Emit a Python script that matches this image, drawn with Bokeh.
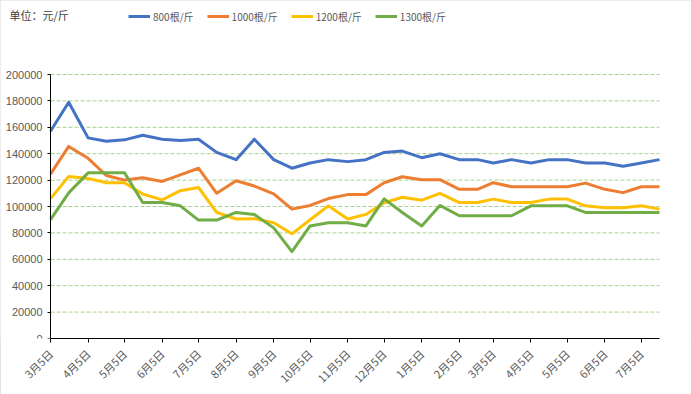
import pandas as pd
from bokeh.plotting import figure
from bokeh.models import (Range1d, FixedTicker, Legend, LegendItem, Label,
                          NumeralTickFormatter)
from bokeh.embed import file_html
from bokeh.resources import INLINE

# ---- data ----
dates = ["2021-03-05", "2021-03-20", "2021-04-05", "2021-04-20", "2021-05-05", "2021-05-20",
         "2021-06-05", "2021-06-20", "2021-07-05", "2021-07-20", "2021-08-05", "2021-08-20",
         "2021-09-05", "2021-09-20", "2021-10-05", "2021-10-20", "2021-11-05", "2021-11-20",
         "2021-12-05", "2021-12-20", "2022-01-05", "2022-01-20", "2022-02-05", "2022-02-20",
         "2022-03-05", "2022-03-20", "2022-04-05", "2022-04-20", "2022-05-05", "2022-05-20",
         "2022-06-05", "2022-06-20", "2022-07-05", "2022-07-20"]

s800 = [157000, 179000, 152000, 149500, 150500, 154000, 151000, 150000, 151000, 141000,
        135500, 151000, 135500, 129000, 133000, 135500, 134000, 135500, 141000, 142000,
        137000, 140000, 135500, 135500, 133000, 135500, 133000, 135500, 135500, 133000,
        133000, 130500, 133000, 135500]
s1000 = [124500, 145500, 136500, 123500, 120000, 121800, 119000, 124000, 129000, 110000,
         119500, 115500, 109500, 98000, 100800, 106000, 109000, 109000, 118000, 122500,
         120300, 120300, 113000, 113000, 118000, 115000, 115000, 115000, 115000, 117700,
         113000, 110500, 115000, 115000]
s1200 = [106000, 122800, 121300, 118000, 118000, 109500, 105000, 112000, 114400, 95500,
         90500, 90800, 87700, 79300, 90000, 100500, 90500, 94000, 102800, 107000,
         104800, 110000, 103000, 103000, 105600, 103000, 103000, 105600, 105600, 100500,
         99000, 99000, 100500, 98000]
s1300 = [90000, 110300, 125500, 125500, 125500, 103000, 103000, 100500, 89700, 89700,
         95500, 94000, 83800, 65800, 85300, 87700, 87700, 85300, 105800, 95500,
         85300, 100800, 93000, 93000, 93000, 93000, 100500, 100500, 100500, 95500,
         95500, 95500, 95500, 95500]

series_names = ["800根/斤", "1000根/斤", "1200根/斤", "1300根/斤"]
tick_dates = dates[::2]
tick_labels = ["3月5日", "4月5日", "5月5日", "6月5日", "7月5日", "8月5日", "9月5日", "10月5日",
               "11月5日", "12月5日", "1月5日", "2月5日", "3月5日", "4月5日", "5月5日", "6月5日", "7月5日"]
y_ticks = [0, 20000, 40000, 60000, 80000, 100000, 120000, 140000, 160000, 180000, 200000]
unit_text = "单位：元/斤"

# ---- derived x positions (days from first date) ----
t0 = pd.Timestamp(dates[0])
x = [int((pd.Timestamp(d) - t0).days) for d in dates]
xt = [int((pd.Timestamp(d) - t0).days) for d in tick_dates]

colors = ["#4472C4", "#ED7D31", "#FFC000", "#70AD47"]
CJK = "Noto Sans CJK SC"

# ---- layout geometry (pixels) ----
W, H = 691, 394
PL, PR = 50, 659          # plot area left/right
PT, PB = 74, 338          # plot area top (200000) / bottom (0)
frame_h = PB               # frame spans from top of canvas to x axis
x0, x1 = x[0], x[-1]
dpp = (x1 - x0) / (PR - PL)
ypp = (y_ticks[-1] - y_ticks[0]) / (PB - PT)

p = figure(width=W, height=H, output_backend="svg", toolbar_location=None,
           x_range=Range1d(x0 - PL * dpp, x1 + (W - PR) * dpp),
           y_range=Range1d(y_ticks[0], y_ticks[0] + frame_h * ypp),
           min_border_left=0, min_border_right=0, min_border_top=0,
           min_border_bottom=H - PB)
p.outline_line_color = None
p.background_fill_color = "white"
p.border_fill_color = "white"
p.xgrid.visible = False
p.ygrid.visible = False

# y axis drawn at the first date, so it takes no side space
p.yaxis.fixed_location = x0
p.yaxis.bounds = (y_ticks[0], y_ticks[-1])
p.yaxis.ticker = FixedTicker(ticks=y_ticks)
p.yaxis.formatter = NumeralTickFormatter(format="0")
p.yaxis.minor_tick_line_color = None
p.yaxis.major_tick_out = 3
p.yaxis.major_tick_in = 0
p.yaxis.major_label_standoff = 5
p.yaxis.axis_line_color = "black"
p.yaxis.major_tick_line_color = "black"
p.yaxis.major_label_text_font = "Liberation Sans"
p.yaxis.major_label_text_font_size = "11px"
p.yaxis.major_label_text_color = "#595959"

p.xaxis.bounds = (x0, x1)
p.xaxis.ticker = FixedTicker(ticks=xt)
p.xaxis.major_label_overrides = {v: lab for v, lab in zip(xt, tick_labels)}
p.xaxis.minor_tick_line_color = None
p.xaxis.major_tick_out = 4
p.xaxis.major_tick_in = 0
p.xaxis.major_label_standoff = 9
p.xaxis.axis_line_color = "black"
p.xaxis.major_tick_line_color = "black"
p.xaxis.major_label_orientation = 0.785398
p.xaxis.major_label_text_font = CJK
p.xaxis.major_label_text_font_size = "11px"
p.xaxis.major_label_text_color = "#595959"

# horizontal dashed gridlines across the plot area only
gy = y_ticks[1:]
p.segment(x0=[x0] * len(gy), x1=[x1] * len(gy), y0=gy, y1=gy,
          line_color="#A9D18E", line_width=1, line_dash="4 2")

renderers = []
for ys, c in zip([s800, s1000, s1200, s1300], colors):
    renderers.append(p.line(x, ys, line_color=c, line_width=3, line_join="round"))

legend = Legend(items=[LegendItem(label=n, renderers=[r]) for n, r in zip(series_names, renderers)],
                orientation="horizontal", location=(128, frame_h - 16 - 10),
                glyph_width=22, glyph_height=12, label_standoff=3, spacing=13,
                padding=0, margin=0, border_line_color=None, background_fill_alpha=0,
                label_text_font=CJK, label_text_font_size="10px", label_text_color="#595959",
                label_height=20)
p.add_layout(legend, "center")

p.add_layout(Label(x=9, y=frame_h - 14, x_units="screen", y_units="screen", text=unit_text,
                   text_font=CJK, text_font_size="11px", text_color="#404040",
                   text_baseline="middle"))

p.styles = {"outline": "1px solid #D9D9D9", "outline-offset": "-1px"}

open("out.html", "w").write(file_html(p, INLINE))
